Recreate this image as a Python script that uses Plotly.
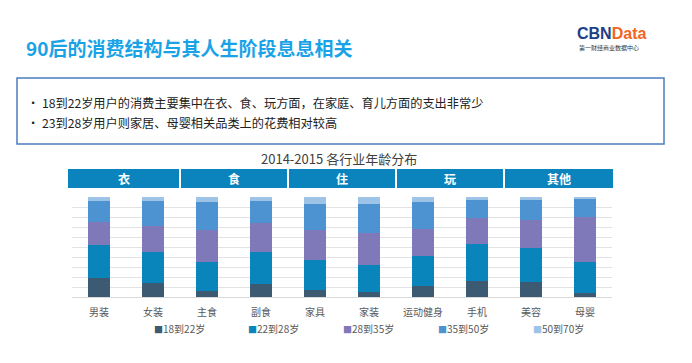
import plotly.graph_objects as go

categories = ["男装", "女装", "主食", "副食", "家具", "家装", "运动健身", "手机", "美容", "母婴"]
series_names = ["18到22岁", "22到28岁", "28到35岁", "35到50岁", "50到70岁"]
age_18_22 = [19.0, 13.7, 6.3, 12.7, 6.7, 4.7, 11.3, 16.0, 14.7, 4.0]
age_22_28 = [33.3, 31.0, 28.7, 32.7, 30.7, 27.7, 30.0, 37.3, 34.7, 30.7]
age_28_35 = [22.3, 26.0, 32.3, 28.3, 30.0, 31.3, 26.7, 25.3, 27.3, 45.3]
age_35_50 = [21.0, 25.7, 27.7, 22.7, 26.0, 29.7, 27.0, 18.0, 20.0, 17.7]
age_50_70 = [4.3, 3.7, 5.0, 3.7, 6.7, 6.7, 5.0, 3.3, 3.3, 2.3]
groups = ["衣", "食", "住", "玩", "其他"]

series_values = [age_18_22, age_22_28, age_28_35, age_35_50, age_50_70]
colors = ["#3C5A72", "#0A85BB", "#7F78B9", "#4D92D1", "#9DC3E6"]

PAGE_W, PAGE_H = 692, 363
BODY = 8                      # default page body margin
W, H = PAGE_W - BODY, PAGE_H - BODY
L, R, T, B = 72, 612, 197, 297   # plot area in page pixels

def px(x):
    return (x - L) / (R - L)

def py(y):
    return (B - y) / (B - T)

CJK = "Noto Sans CJK SC, Noto Sans, sans-serif"

fig = go.Figure()
for name, vals, c in zip(series_names, series_values, colors):
    fig.add_trace(go.Bar(x=categories, y=vals, name=name, marker=dict(color=c, line=dict(width=0)),
                         showlegend=False))

fig.update_layout(
    width=W, height=H,
    margin=dict(l=L - BODY, r=PAGE_W - R, t=T - BODY, b=PAGE_H - B, pad=0),
    barmode="stack", barnorm="percent", bargap=0.6,
    plot_bgcolor="white", paper_bgcolor="white",
    font=dict(family=CJK, color="#595959", size=10),
    xaxis=dict(showgrid=False, showline=False, ticks="outside", ticklen=6, tickcolor="rgba(0,0,0,0)",
               tickfont=dict(size=10, color="#595959", family=CJK)),
    yaxis=dict(range=[0, 100], dtick=10, showticklabels=False, gridcolor="#E3E3E3", gridwidth=1,
               zeroline=True, zerolinecolor="#D9D9D9", zerolinewidth=1, showline=False),
)

shapes = []
annotations = []

# header band
bounds = [68, 180, 288, 396, 504, 613]
for i, g in enumerate(groups):
    x0 = bounds[i] + (1 if i > 0 else 0)
    x1 = bounds[i + 1] - (1 if i < len(groups) - 1 else 0)
    shapes.append(dict(type="rect", xref="paper", yref="paper", x0=px(x0), x1=px(x1),
                       y0=py(188), y1=py(169), fillcolor="#0B84BE", line=dict(width=0), layer="above"))
    annotations.append(dict(xref="paper", yref="paper", x=px((x0 + x1) / 2), y=py(178.5), text="<b>" + g + "</b>",
                            showarrow=False, font=dict(color="white", size=12, family=CJK),
                            xanchor="center", yanchor="middle"))

# text box
shapes.append(dict(type="rect", xref="paper", yref="paper", x0=px(17), x1=px(664), y0=py(144), y1=py(78),
                   line=dict(color="#4A7EBF", width=1.5), fillcolor="rgba(0,0,0,0)"))
bullets = ["18到22岁用户的消费主要集中在衣、食、玩方面，在家庭、育儿方面的支出非常少",
           "23到28岁用户则家居、母婴相关品类上的花费相对较高"]
for yy, t in zip([103, 123], bullets):
    annotations.append(dict(xref="paper", yref="paper", x=px(25), y=py(yy), text="• " + t, showarrow=False,
                            xanchor="left", yanchor="middle", font=dict(size=12.2, color="#222222", family=CJK)))

# title
annotations.append(dict(xref="paper", yref="paper", x=px(24), y=py(47), text="<b>90后的消费结构与其人生阶段息息相关</b>",
                        showarrow=False, xanchor="left", yanchor="middle",
                        font=dict(size=19, color="#19A3E6", family=CJK)))
# logo
annotations.append(dict(xref="paper", yref="paper", x=px(575), y=py(33),
                        text="<b><span style='color:#1C3F86'>CBN</span><span style='color:#F26522'>Data</span></b>",
                        showarrow=False, xanchor="left", yanchor="middle",
                        font=dict(size=16, family="Liberation Sans, Arial, sans-serif")))
annotations.append(dict(xref="paper", yref="paper", x=px(577), y=py(47), text="第一财经商业数据中心",
                        showarrow=False, xanchor="left", yanchor="middle",
                        font=dict(size=6, color="#333333", family=CJK)))
# chart title
annotations.append(dict(xref="paper", yref="paper", x=px(339), y=py(158), text="2014-2015 各行业年龄分布",
                        showarrow=False, xanchor="center", yanchor="middle",
                        font=dict(size=13, color="#404040", family=CJK)))
# legend
leg_x = [152, 246, 341, 436, 531]
for lx, name, c in zip(leg_x, series_names, colors):
    annotations.append(dict(xref="paper", yref="paper", x=px(lx), y=py(328),
                            text="<span style='color:%s;font-size:9px'>■</span>%s" % (c, name),
                            showarrow=False, xanchor="left", yanchor="middle",
                            font=dict(size=10, color="#595959", family=CJK)))

fig.update_layout(shapes=shapes, annotations=annotations)
fig.write_html("out.html")
